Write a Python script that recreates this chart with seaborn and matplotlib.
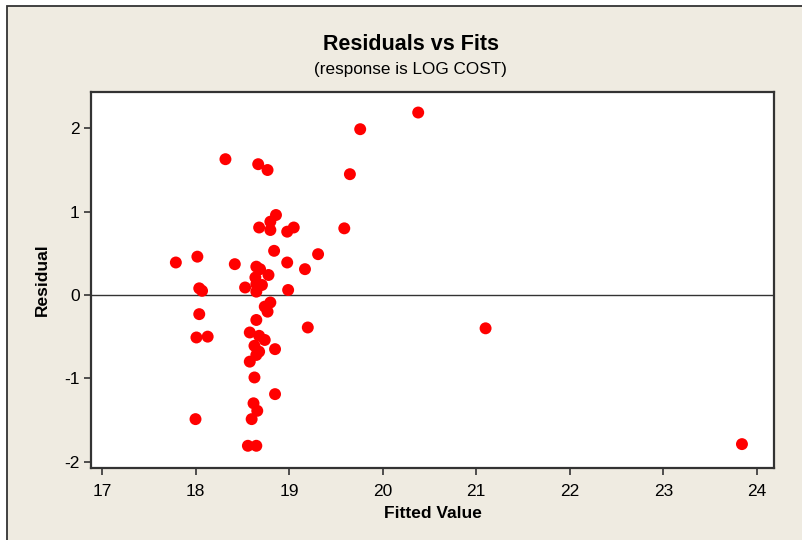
import numpy as np
import pandas as pd
import seaborn as sns
import matplotlib.pyplot as plt
from matplotlib.patches import Rectangle

# fitted values and residuals
fitted = [20.38, 19.76, 19.65, 23.84, 19.59, 19.31, 21.10, 19.20, 19.17,
          18.32, 18.67, 18.77, 18.86, 18.80, 18.68, 18.80, 18.98, 19.05,
          18.84, 17.79, 18.02, 18.42, 18.65, 18.69, 18.98, 18.78, 18.64,
          18.65, 18.71, 18.53, 18.65, 18.04, 18.07, 18.99,
          18.80, 18.74, 18.77, 18.04, 18.65, 18.58, 18.68, 18.74, 18.01,
          18.13, 18.63, 18.68, 18.85, 18.65, 18.58, 18.63, 18.85, 18.62,
          18.66, 18.60, 18.00, 18.56, 18.65]
residual = [2.19, 1.99, 1.45, -1.79, 0.80, 0.49, -0.40, -0.39, 0.31,
            1.63, 1.57, 1.50, 0.96, 0.88, 0.81, 0.78, 0.76, 0.81,
            0.53, 0.39, 0.46, 0.37, 0.34, 0.31, 0.39, 0.24, 0.21,
            0.13, 0.12, 0.09, 0.04, 0.08, 0.05, 0.06,
            -0.09, -0.14, -0.20, -0.23, -0.30, -0.45, -0.49, -0.54, -0.51,
            -0.50, -0.61, -0.68, -0.65, -0.72, -0.80, -0.99, -1.19, -1.30,
            -1.39, -1.49, -1.49, -1.81, -1.81]

x_ticks = [17, 18, 19, 20, 21, 22, 23, 24]
y_ticks = [-2, -1, 0, 1, 2]

df = pd.DataFrame({"Fitted Value": fitted, "Residual": residual})

sns.set_style("white")
plt.rcParams['font.family'] = ['Liberation Sans', 'DejaVu Sans']
plt.rcParams['axes.unicode_minus'] = False
plt.rcParams['text.color'] = 'black'
plt.rcParams['axes.labelcolor'] = 'black'
plt.rcParams['xtick.color'] = 'black'
plt.rcParams['ytick.color'] = 'black'

bg = "#efebe1"
fig = plt.figure(figsize=(8.02, 5.40), dpi=100, facecolor="white")
# beige panel with dark frame on top and left
fig.patches.append(Rectangle((0.0087, -0.05), 1.2, 0.9898 + 0.05, transform=fig.transFigure,
                             facecolor=bg, edgecolor="#333333", linewidth=1.3, zorder=-10))

ax = fig.add_axes([0.1131, 0.1339, 0.8524, 0.6952])
ax.set_facecolor("white")

ax.axhline(0, color="#333333", linewidth=1.0, zorder=1)
sns.scatterplot(data=df, x="Fitted Value", y="Residual", ax=ax, color="#ff0000",
                edgecolor="none", s=74, zorder=3)

ax.set_xlim(16.88, 24.186)
ax.set_ylim(-2.073, 2.433)
ax.set_xticks(x_ticks)
ax.set_yticks(y_ticks)
ax.tick_params(axis="both", direction="out", length=5, width=1.2, color="#333333",
               labelsize=12.5, bottom=True, left=True)
ax.tick_params(axis="x", pad=7)
ax.tick_params(axis="y", pad=3)
for side in ["top", "right", "bottom", "left"]:
    ax.spines[side].set_color("#333333")
    ax.spines[side].set_linewidth(1.6)

ax.set_xlabel("Fitted Value", fontsize=12.5, fontweight="bold", labelpad=5)
ax.set_ylabel("Residual", fontsize=12.5, fontweight="bold", labelpad=10)

fig.text(0.512, 0.917, "Residuals vs Fits", ha="center", va="center",
         fontsize=15.5, fontweight="bold")
fig.text(0.512, 0.872, "(response is LOG COST)", ha="center", va="center", fontsize=12.3)

fig.savefig("out.png", dpi=100, facecolor="white")
